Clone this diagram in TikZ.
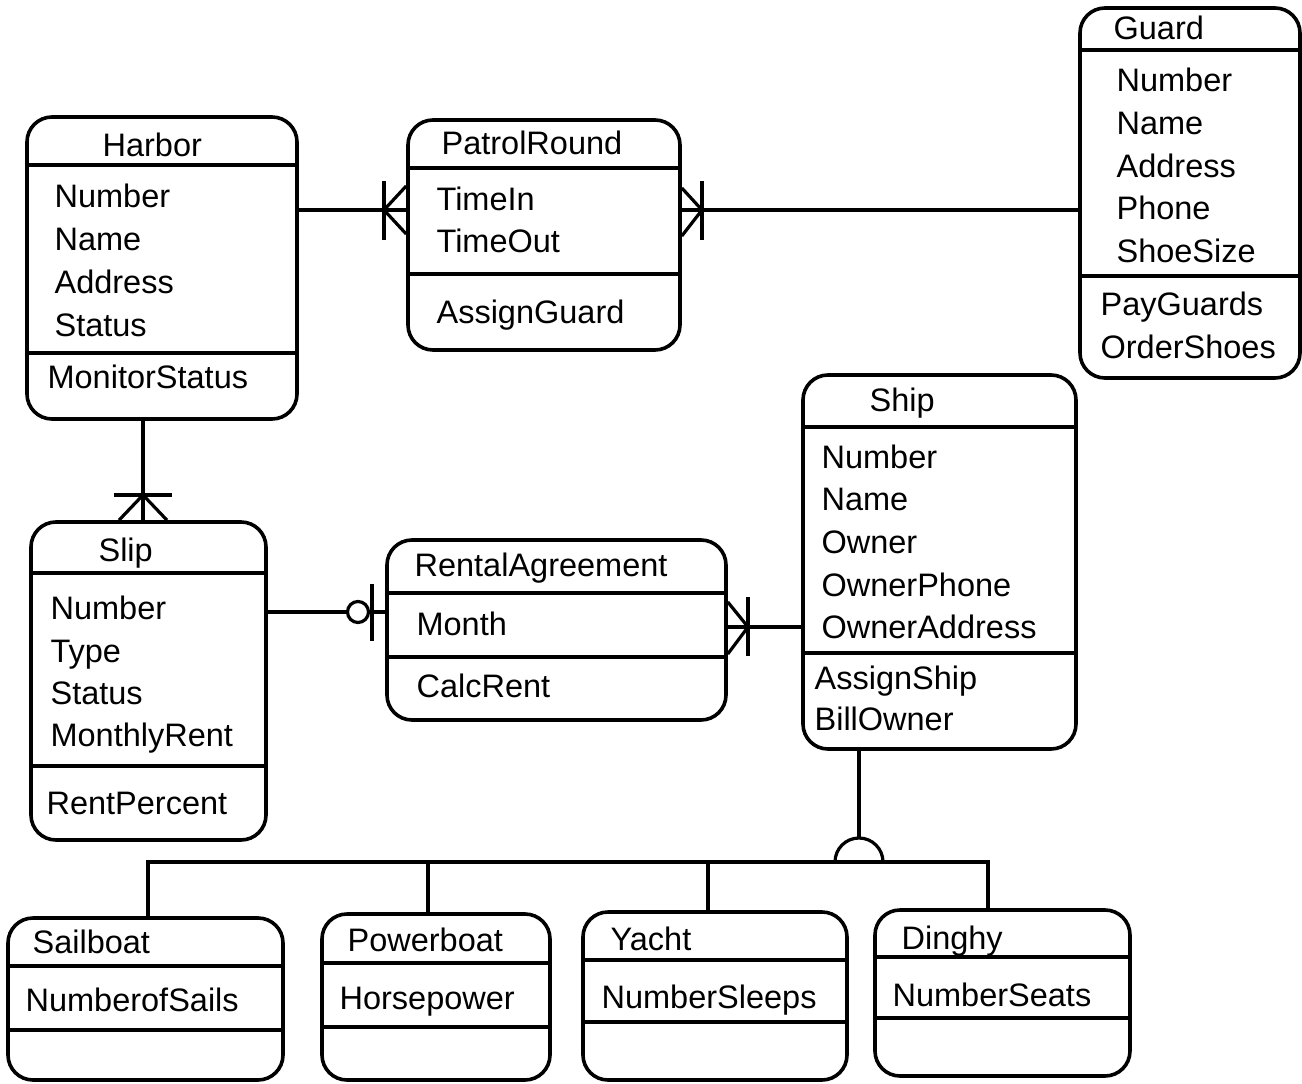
\documentclass[tikz,border=0pt]{standalone}
\usepackage{fontspec}
\setmainfont{Liberation Sans}
\usetikzlibrary{fit}

\tikzset{every picture/.style={line width=3.2pt}}
\tikzset{
  erbox/.style={draw, rounded corners=25pt, inner sep=0pt, line width=3.6pt},
  lbl/.style={anchor=base west, inner sep=0pt, font=\fontsize{32.5}{39}\selectfont},
}

\begin{document}
\begin{tikzpicture}[x=1pt,y=1pt,yscale=-1,xscale=1]
	\useasboundingbox (0,0) rectangle (1302,1084);

	%Boxes
	\node [erbox, fit={(27,117) (297,419)}] (harbor) {};
	\node [erbox, fit={(408,120) (680,350)}] (patrol) {};
	\node [erbox, fit={(1080,8) (1300,378)}] (guard) {};
	\node [erbox, fit={(803,375) (1076,749)}] (ship) {};
	\node [erbox, fit={(31,522) (266,840)}] (slip) {};
	\node [erbox, fit={(387,540) (726,720)}] (rental) {};
	\node [erbox, fit={(8,918) (283,1080)}] (sailboat) {};
	\node [erbox, fit={(322,914) (550,1080)}] (powerboat) {};
	\node [erbox, fit={(583,912) (847,1080)}] (yacht) {};
	\node [erbox, fit={(875,910) (1130,1076)}] (dinghy) {};

	%Separators
	\draw (harbor.west |- 0,165) -- (harbor.east |- 0,165);
	\draw (harbor.west |- 0,353) -- (harbor.east |- 0,353);
	\draw (patrol.west |- 0,168) -- (patrol.east |- 0,168);
	\draw (patrol.west |- 0,274) -- (patrol.east |- 0,274);
	\draw (guard.west |- 0,50) -- (guard.east |- 0,50);
	\draw (guard.west |- 0,276) -- (guard.east |- 0,276);
	\draw (ship.west |- 0,427) -- (ship.east |- 0,427);
	\draw (ship.west |- 0,653) -- (ship.east |- 0,653);
	\draw (slip.west |- 0,573) -- (slip.east |- 0,573);
	\draw (slip.west |- 0,766) -- (slip.east |- 0,766);
	\draw (rental.west |- 0,593) -- (rental.east |- 0,593);
	\draw (rental.west |- 0,657) -- (rental.east |- 0,657);
	\draw (sailboat.west |- 0,966) -- (sailboat.east |- 0,966);
	\draw (sailboat.west |- 0,1030) -- (sailboat.east |- 0,1030);
	\draw (powerboat.west |- 0,963) -- (powerboat.east |- 0,963);
	\draw (powerboat.west |- 0,1027) -- (powerboat.east |- 0,1027);
	\draw (yacht.west |- 0,960) -- (yacht.east |- 0,960);
	\draw (yacht.west |- 0,1022) -- (yacht.east |- 0,1022);
	\draw (dinghy.west |- 0,957) -- (dinghy.east |- 0,957);
	\draw (dinghy.west |- 0,1018) -- (dinghy.east |- 0,1018);

	%Harbor -- PatrolRound
	\coordinate (hp) at (384,210);
	\draw (harbor.east |- hp) -- (patrol.west |- hp);
	\draw (hp) -- (patrol.west |- 0,186);
	\draw (hp) -- (patrol.west |- 0,234);
	\draw ([yshift=30pt]hp) -- ([yshift=-29pt]hp);
	%PatrolRound -- Guard
	\coordinate (pg) at (702,210);
	\draw (patrol.east |- pg) -- (guard.west |- pg);
	\draw (pg) -- (patrol.east |- 0,188);
	\draw (pg) -- (patrol.east |- 0,236);
	\draw ([yshift=30pt]pg) -- ([yshift=-29pt]pg);
	%Harbor -- Slip
	\coordinate (hs) at (143,495);
	\draw (harbor.south -| hs) -- (slip.north -| hs);
	\draw (hs) -- (slip.north -| 119,0);
	\draw (hs) -- (slip.north -| 167,0);
	\draw ([xshift=-29pt]hs) -- ([xshift=29pt]hs);
	%Slip -- RentalAgreement
	\node [circle, draw, minimum size=21pt, inner sep=0pt] (sr) at (358,612) {};
	\draw (slip.east |- sr) -- (sr.west);
	\draw (sr.east) -- (rental.west |- sr);
	\draw (372,584) -- (372,641);
	%RentalAgreement -- Ship
	\coordinate (rs) at (748,627);
	\draw (rental.east |- rs) -- (ship.west |- rs);
	\draw (rs) -- (rental.east |- 0,602);
	\draw (rs) -- (rental.east |- 0,654);
	\draw ([yshift=29pt]rs) -- ([yshift=-30pt]rs);
	%Ship -- subtypes
	\coordinate (gen) at (859,862);
	\draw (ship.south -| gen) -- ([yshift=-24pt]gen);
	\draw ([xshift=-24pt]gen) arc [start angle=180, end angle=360, radius=24];
	\draw (sailboat.north -| 148,0) |- (gen) -| (dinghy.north -| 988,0);
	\draw (powerboat.north -| 428,0) -- (gen -| 428,0);
	\draw (yacht.north -| 708,0) -- (gen -| 708,0);

	% Text Node
	\node [lbl] (harbor-t) at (101,156) {Harbor};
	\node [lbl] (harbor-1) at (53,207) {Number};
	\node [lbl] (harbor-2) at (53,250) {Name};
	\node [lbl] (harbor-3) at (53,293) {Address};
	\node [lbl] (harbor-4) at (53,336) {Status};
	\node [lbl] (harbor-m) at (46,388) {MonitorStatus};
	% Text Node
	\node [lbl] (patrol-t) at (440,154) {PatrolRound};
	\node [lbl] (patrol-1) at (435,210) {TimeIn};
	\node [lbl] (patrol-2) at (435,252) {TimeOut};
	\node [lbl] (patrol-m) at (435,323) {AssignGuard};
	% Text Node
	\node [lbl] (guard-t) at (1112,39) {Guard};
	\node [lbl] (guard-1) at (1115,91) {Number};
	\node [lbl] (guard-2) at (1115,134) {Name};
	\node [lbl] (guard-3) at (1115,177) {Address};
	\node [lbl] (guard-4) at (1115,219) {Phone};
	\node [lbl] (guard-5) at (1115,262) {ShoeSize};
	\node [lbl] (guard-m1) at (1099,315) {PayGuards};
	\node [lbl] (guard-m2) at (1099,358) {OrderShoes};
	% Text Node
	\node [lbl] (ship-t) at (868,411) {Ship};
	\node [lbl] (ship-1) at (820,468) {Number};
	\node [lbl] (ship-2) at (820,510) {Name};
	\node [lbl] (ship-3) at (820,553) {Owner};
	\node [lbl] (ship-4) at (820,596) {OwnerPhone};
	\node [lbl] (ship-5) at (820,638) {OwnerAddress};
	\node [lbl] (ship-m1) at (813,689) {AssignShip};
	\node [lbl] (ship-m2) at (813,730) {BillOwner};
	% Text Node
	\node [lbl] (slip-t) at (97,561) {Slip};
	\node [lbl] (slip-1) at (49,619) {Number};
	\node [lbl] (slip-2) at (49,662) {Type};
	\node [lbl] (slip-3) at (49,704) {Status};
	\node [lbl] (slip-4) at (49,746) {MonthlyRent};
	\node [lbl] (slip-m) at (45,814) {RentPercent};
	% Text Node
	\node [lbl] (rental-t) at (413,576) {RentalAgreement};
	\node [lbl] (rental-1) at (415,635) {Month};
	\node [lbl] (rental-m) at (415,697) {CalcRent};
	% Text Node
	\node [lbl] (sailboat-t) at (31,953) {Sailboat};
	\node [lbl] (sailboat-1) at (24,1011) {NumberofSails};
	\node [lbl] (powerboat-t) at (346,951) {Powerboat};
	\node [lbl] (powerboat-1) at (338,1009) {Horsepower};
	\node [lbl] (yacht-t) at (609,950) {Yacht};
	\node [lbl] (yacht-1) at (600,1008) {NumberSleeps};
	\node [lbl] (dinghy-t) at (900,949) {Dinghy};
	\node [lbl] (dinghy-1) at (891,1006) {NumberSeats};

\end{tikzpicture}
\end{document}
